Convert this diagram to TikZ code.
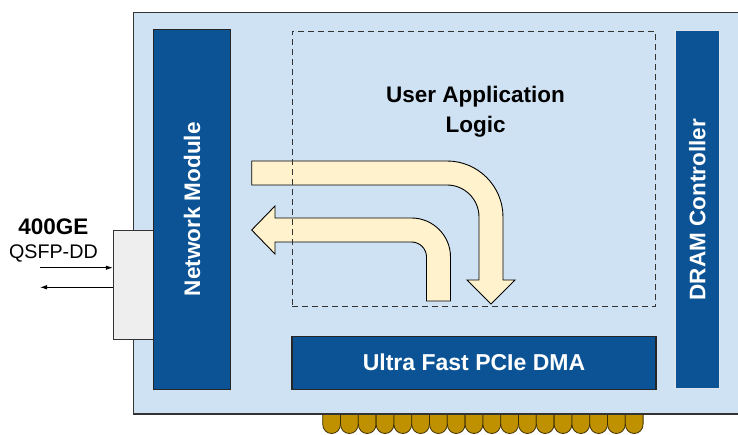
\documentclass[tikz,border=0pt]{standalone}
\usepackage{fontspec}
\setmainfont{Liberation Sans}
\usetikzlibrary{arrows.meta}
\definecolor{boardfill}{HTML}{CFE2F3}
\definecolor{boardline}{HTML}{333333}
\definecolor{darkblue}{HTML}{0B5394}
\definecolor{qsfpfill}{HTML}{EEEEEE}
\definecolor{arrowfill}{HTML}{FFF2CC}
\definecolor{gold}{HTML}{BF9000}
\definecolor{goldline}{HTML}{3F3000}
\begin{document}
\begin{tikzpicture}[x=1pt,y=-1pt,
  bluebox/.style={draw=black!85, line width=1.1pt, fill=darkblue, inner sep=0pt, text=white,
    font=\fontsize{22.5}{27}\selectfont\bfseries},
  blockarrow/.style={draw=black, line width=0.9pt, fill=arrowfill, line join=miter},
  thinarrow/.style={draw=black, line width=0.8pt, -{Latex[length=7pt,width=4.5pt]}},
  finger/.style={draw=goldline, line width=0.8pt, fill=gold}]
\clip (0,0) rectangle (738,435);
\fill[white] (0,0) rectangle (738,435);
% gold edge fingers
\foreach \i in {0,...,17}{
  \pgfmathsetmacro{\xa}{322.7+17.8*\i}
  \draw[finger] (\xa,410) -- (\xa,424) .. controls (\xa,429.5) and (\xa+3.9,433.5) .. (\xa+8.9,433.5)
     .. controls (\xa+13.9,433.5) and (\xa+17.8,429.5) .. (\xa+17.8,424) -- (\xa+17.8,410) -- cycle;
}
% board
\draw[boardline, line width=1.4pt, fill=boardfill] (133.5,12.7) rectangle (760,414);
% QSFP cage
\node[draw=boardline, line width=1pt, fill=qsfpfill, minimum width=40.4pt, minimum height=108pt, inner sep=0pt]
  (qsfp) at (133.5,285) {};
% network module
\node[bluebox, rotate=90, minimum width=360pt, minimum height=77pt] (net) at (192.2,209.3) {Network Module};
% DRAM controller
\node[bluebox, draw=white!85!darkblue, rotate=90, minimum width=357.7pt, minimum height=44.7pt] (dram) at (697.3,209.8) {DRAM Controller};
% PCIe DMA
\node[bluebox, minimum width=364pt, minimum height=53.3pt, font=\fontsize{23}{27}\selectfont\bfseries] (dma) at (474,362.7) {Ultra Fast PCIe DMA};
% block arrows
\draw[blockarrow] (251.7,161) -- (447,161) .. controls (477.9,161) and (503,186.1) .. (503,217)
  -- (503,280) -- (515,280) -- (491,304) -- (467,280) -- (479,280) -- (479,217)
  .. controls (479,199.3) and (464.7,185) .. (447,185) -- (251.7,185) -- cycle;
\draw[blockarrow] (275,218) -- (411.5,218) .. controls (433,218) and (450.5,235.5) .. (450.5,257)
  -- (450.5,301) -- (426.5,301) -- (426.5,257) .. controls (426.5,248.7) and (419.8,242) .. (411.5,242)
  -- (275,242) -- (275,254) -- (251.7,230) -- (275,206) -- cycle;
% user application logic region
\node[draw=black!80, line width=1pt, dash pattern=on 6pt off 4pt, minimum width=363.7pt, minimum height=275pt, inner sep=0pt]
  (ual) at (473.85,169.2) {};
\node[font=\fontsize{22.5}{29.5}\selectfont\bfseries, align=center, anchor=base] (ualtext) at (475.5,132.5)
  {User Application\\Logic};
% port labels
\node[font=\fontsize{22.5}{27}\selectfont\bfseries, anchor=base] (ge) at (53.3,234.3) {400GE};
\node[font=\fontsize{19.7}{24}\selectfont, anchor=base] (qsfplabel) at (53.4,259) {QSFP-DD};
\coordinate (inA) at (40,267.7);
\coordinate (outB) at (40,287.3);
\draw[thinarrow] (inA) -- (inA -| qsfp.west);
\draw[thinarrow] (outB -| qsfp.west) -- (outB);
\end{tikzpicture}
\end{document}
